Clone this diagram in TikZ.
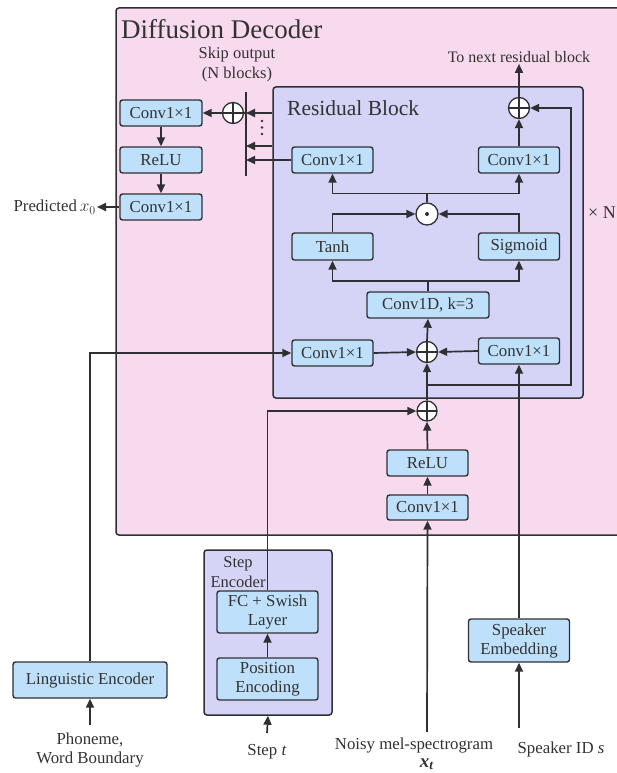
\documentclass[tikz,border=0pt]{standalone}
\usepackage{fontspec}
\setmainfont{Liberation Serif}
\usetikzlibrary{arrows.meta,calc}
\definecolor{pinkbg}{RGB}{248,218,238}
\definecolor{lavbg}{RGB}{214,212,246}
\definecolor{boxbg}{RGB}{190,224,250}
\definecolor{lc}{RGB}{48,48,52}
\definecolor{tc}{RGB}{50,50,50}
\newcommand{\fsz}{\fontsize{16.8}{20}\selectfont}
\begin{document}
\begin{tikzpicture}[x=1pt,y=-1pt,
  bx/.style={draw=lc, fill=boxbg, rounded corners=2.5pt, line width=1.4pt, inner sep=0pt, font=\fsz, align=center, text=tc},
  frm/.style={draw=lc, rounded corners=3pt, line width=1.5pt, inner sep=0pt},
  ln/.style={draw=lc, line width=1.7pt},
  arr/.style={ln, -{Triangle[length=9pt,width=8pt]}},
  pc/.style={circle, draw=lc, fill=white, line width=1.3pt, minimum size=21pt, inner sep=0pt,
    path picture={\draw[lc, line width=1.2pt] (path picture bounding box.north) -- (path picture bounding box.south)
      (path picture bounding box.west) -- (path picture bounding box.east);}},
  dc/.style={circle, draw=lc, fill=white, line width=1.3pt, minimum size=22pt, inner sep=0pt,
    path picture={\fill[lc] (path picture bounding box.center) circle (2pt);}},
  lbl/.style={font=\fsz, align=center, inner sep=1pt, text=tc}
]
\useasboundingbox (0,0) rectangle (616,773);
% frames
\node[frm, fill=pinkbg, minimum width=514pt, minimum height=527pt] (dec) at (373,271.5) {};
\node[frm, fill=lavbg, minimum width=310pt, minimum height=311pt] (rb) at (428,242.5) {};
\node[frm, fill=lavbg, minimum width=128pt, minimum height=165pt] (se) at (268,632.5) {};
% titles
\node[anchor=west, inner sep=0pt, font=\fontsize{27}{30}\selectfont, text=tc] (dtitle) at (121,29) {Diffusion Decoder};
\node[anchor=west, inner sep=0pt, font=\fontsize{21.5}{24}\selectfont, text=tc] (rtitle) at (287,108) {Residual Block};
\node[lbl, font=\fontsize{16.5}{20}\selectfont] (skiplbl) at (237,65) {Skip output\\(N blocks)};
\node[lbl, font=\fontsize{16}{20}\selectfont] (tonext) at (519,57) {To next residual block};
\node[lbl, anchor=west, font=\fontsize{18}{20}\selectfont] (timesn) at (587,213) {× N};
\node[lbl, font=\fontsize{16.5}{20}\selectfont] (setitle) at (238,572) {Step\\Encoder};
% skip path
\node[bx, minimum width=82pt, minimum height=26pt] (sc1) at (161,113) {Conv1×1};
\node[bx, minimum width=82pt, minimum height=26pt] (srelu) at (161,160) {ReLU};
\node[bx, minimum width=82pt, minimum height=26pt] (sc2) at (161,207) {Conv1×1};
\node[pc] (splus) at (233,113) {};
\node[lbl, anchor=east] (pred) at (97,207) {Predicted\,$x_0$};
% residual block
\node[pc] (rplus) at (519,108) {};
\node[bx, minimum width=81pt, minimum height=26pt] (rtcl) at (332.5,160) {Conv1×1};
\node[bx, minimum width=81pt, minimum height=26pt] (rtcr) at (519,160) {Conv1×1};
\node[dc] (odot) at (427,214) {};
\node[bx, minimum width=81pt, minimum height=27pt] (tanh) at (332.5,246.5) {Tanh};
\node[bx, minimum width=81pt, minimum height=27pt] (sigm) at (519,246.5) {Sigmoid};
\node[bx, minimum width=122pt, minimum height=26pt] (c1d) at (428,305) {Conv1D, k=3};
\node[pc] (mplus) at (427,352) {};
\node[bx, minimum width=81pt, minimum height=26pt] (mcl) at (332.5,353) {Conv1×1};
\node[bx, minimum width=81pt, minimum height=26pt] (mcr) at (519,351) {Conv1×1};
% input stem
\node[pc, minimum size=20pt] (bplus) at (427,411) {};
\node[bx, minimum width=81pt, minimum height=26pt] (relu) at (427.5,463) {ReLU};
\node[bx, minimum width=81pt, minimum height=25pt] (bconv) at (427.5,507.5) {Conv1×1};
% encoders
\node[bx, minimum width=101pt, minimum height=42pt, font=\fontsize{16.8}{19}\selectfont] (fc) at (267.5,612) {FC + Swish\\Layer};
\node[bx, minimum width=101pt, minimum height=42pt, font=\fontsize{16.8}{19}\selectfont] (pe) at (267.5,679) {Position\\Encoding};
\node[bx, minimum width=154pt, minimum height=36pt] (le) at (90,680) {Linguistic Encoder};
\node[bx, minimum width=101pt, minimum height=43pt, font=\fontsize{16.8}{19}\selectfont] (spk) at (519,640.5) {Speaker\\Embedding};
% input labels
\node[lbl, font=\fontsize{16.8}{19}\selectfont] (phon) at (90,750) {Phoneme,\\Word Boundary};
\node[lbl] (stept) at (267,752) {Step \textit{t}};
\node[lbl] (noisy) at (414,745) {Noisy mel-spectrogram};
\node[lbl, font=\fontsize{19}{20}\selectfont] (xt) at (427,764) {\textbf{\textit{x}}\textsubscript{\textbf{\textit{t}}}};
\node[lbl] (spkid) at (561,749) {Speaker ID \textit{s}};
% coordinates
\coordinate (b1) at (246,113);
\coordinate (b2) at (246,146);
\coordinate (b3) at (246,160);
\coordinate (bartop) at (246,92);
\coordinate (barbot) at (246,176);
\coordinate (lp) at (427,385);
\coordinate (lpr) at (571,108);
\coordinate (phin) at (90,725);
\coordinate (stin) at (267,733);
\coordinate (nin) at (427,732);
\coordinate (spin) at (519,728);
% skip bar
\draw[lc, line width=2pt] (bartop) -- (barbot);
\foreach \yy in {121,127.5,134} \fill[lc] (262,\yy) circle (1.4pt);
\draw[arr] (b1 -| rb.west) -- (b1);
\draw[arr] (b2 -| rb.west) -- (b2);
\draw[arr] (rtcl.west) -- (b3);
\draw[ln] (b1) -- (splus.east);
\draw[arr] (splus.west) -- (sc1.east);
\draw[arr] (sc1.south) -- (srelu.north);
\draw[arr] (srelu.south) -- (sc2.north);
\draw[arr] (sc2.west) -- (pred.east);
% residual block wiring
\draw[arr] (rplus.north) -- (tonext.south);
\draw[arr] (rtcr.north) -- (rplus.south);
\draw[arr] (lp) -| (lpr) -- (rplus.east);
\draw[arr] (odot.north) -- ++(0,-9) -| (rtcl.south);
\draw[arr] (odot.north) -- ++(0,-9) -| (rtcr.south);
\draw[arr] (tanh.north) |- (odot.west);
\draw[arr] (sigm.north) |- (odot.east);
\draw[arr] (c1d.north) -- ++(0,-10) -| (tanh.south);
\draw[arr] (c1d.north) -- ++(0,-10) -| (sigm.south);
\draw[arr] (mplus.north) -- (c1d.south);
\draw[arr] (mcl.east) -- (mplus.west);
\draw[arr] (mcr.west) -- (mplus.east);
\draw[arr] (bplus.north) -- (mplus.south);
% inputs
\draw[arr] (bconv.north) -- (relu.south);
\draw[arr] (relu.north) -- (bplus.south);
\draw[arr] (nin) -- (bconv.south);
\draw[arr] (fc.north) |- (bplus.west);
\draw[arr] (pe.north) -- (fc.south);
\draw[arr] (stin) -- (se.south);
\draw[arr] (le.north) |- (mcl.west);
\draw[arr] (phin) -- (le.south);
\draw[arr] (spk.north) -- (mcr.south);
\draw[arr] (spin) -- (spk.south);
\end{tikzpicture}
\end{document}
